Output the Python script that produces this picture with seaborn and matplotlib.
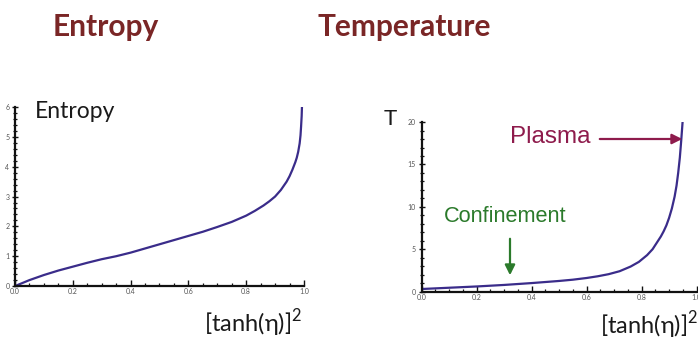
import matplotlib
matplotlib.use("Agg")
import matplotlib.pyplot as plt
from matplotlib.ticker import MultipleLocator
import seaborn as sns
import pandas as pd

# ---- data ----
entropy_x = [0.0, 0.02, 0.05, 0.1, 0.15, 0.2, 0.25, 0.3, 0.35, 0.4, 0.45, 0.5, 0.55, 0.6,
             0.65, 0.7, 0.75, 0.8, 0.83, 0.86, 0.88, 0.9, 0.92, 0.94, 0.95, 0.96, 0.97,
             0.975, 0.98, 0.985, 0.988, 0.99, 0.992, 0.993]
entropy_y = [0.0, 0.08, 0.2, 0.37, 0.52, 0.65, 0.78, 0.9, 1.0, 1.12, 1.26, 1.4, 1.54, 1.68,
             1.82, 1.98, 2.15, 2.36, 2.52, 2.7, 2.84, 3.0, 3.22, 3.5, 3.68, 3.9, 4.15,
             4.3, 4.5, 4.78, 5.05, 5.35, 5.7, 6.0]

temp_x = [0.0, 0.1, 0.2, 0.3, 0.4, 0.5, 0.55, 0.6, 0.64, 0.68, 0.72, 0.76, 0.79, 0.82,
          0.84, 0.86, 0.87, 0.88, 0.89, 0.90, 0.91, 0.92, 0.927, 0.933, 0.939, 0.944, 0.949]
temp_y = [0.3, 0.45, 0.6, 0.78, 1.0, 1.25, 1.4, 1.6, 1.8, 2.05, 2.4, 2.95, 3.5, 4.3,
          5.0, 6.0, 6.5, 7.1, 7.8, 8.7, 9.8, 11.2, 12.5, 14.0, 15.8, 17.8, 20.0]

x_ticks = [0.0, 0.2, 0.4, 0.6, 0.8, 1.0]
x_tick_labels = ["0.0", "0.2", "0.4", "0.6", "0.8", "1.0"]
entropy_ticks = [0, 1, 2, 3, 4, 5, 6]
temp_ticks = [0, 5, 10, 15, 20]

titles = ["Entropy", "Temperature"]
xlabel_text = "[tanh(η)]$^{2}$"

sns.set_theme(style="white")
plt.rcParams["font.family"] = ["Lato", "DejaVu Sans"]
plt.rcParams["mathtext.fontset"] = "custom"
plt.rcParams["mathtext.rm"] = "Lato"

line_color = "#3a2c8a"
title_color = "#7a2626"

fig = plt.figure(figsize=(6.98, 3.43), dpi=100)
ax1 = fig.add_axes([0.0215, 0.166, 0.414, 0.522])
ax2 = fig.add_axes([0.604, 0.150, 0.394, 0.494])

df1 = pd.DataFrame({"x": entropy_x, "y": entropy_y})
df2 = pd.DataFrame({"x": temp_x, "y": temp_y})
sns.lineplot(data=df1, x="x", y="y", ax=ax1, color=line_color, lw=1.6, sort=False)
sns.lineplot(data=df2, x="x", y="y", ax=ax2, color=line_color, lw=1.6, sort=False)

for ax, yt, ymax, yminor in [(ax1, entropy_ticks, 6, 0.2), (ax2, temp_ticks, 20, 1)]:
    ax.set_xlim(0, 1)
    ax.set_ylim(0, ymax)
    ax.set_xticks(x_ticks)
    ax.set_xticklabels(x_tick_labels)
    ax.set_yticks(yt)
    ax.xaxis.set_minor_locator(MultipleLocator(0.05))
    ax.yaxis.set_minor_locator(MultipleLocator(yminor))
    for s in ["top", "right"]:
        ax.spines[s].set_visible(False)
    for s in ["left", "bottom"]:
        ax.spines[s].set_color("#111111")
        ax.spines[s].set_linewidth(1.6)
    ax.tick_params(axis="both", which="both", labelsize=5, labelcolor="#555555",
                   color="#111111", pad=1.5)
    ax.tick_params(axis="x", which="major", direction="in", length=4, width=1.0, bottom=True)
    ax.tick_params(axis="x", which="minor", direction="in", length=2.5, width=0.9, bottom=True)
    ax.tick_params(axis="y", which="major", direction="inout", length=5, width=1.0, left=True)
    ax.tick_params(axis="y", which="minor", direction="inout", length=3, width=0.9, left=True)
    ax.set_xlabel("")
    ax.set_ylabel("")
    ax.patch.set_alpha(0)

# big titles
fig.text(106 / 698, 1 - 27 / 343, titles[0], ha="center", va="center",
         fontsize=21.5, fontweight="bold", color=title_color)
fig.text(404 / 698, 1 - 27 / 343, titles[1], ha="center", va="center",
         fontsize=21.5, fontweight="bold", color=title_color)

# in-plot labels
fig.text(75 / 698, 1 - 112 / 343, "Entropy", ha="center", va="center",
         fontsize=16.5, color="#1a1a1a")
fig.text(390 / 698, 1 - 119 / 343, "T", ha="center", va="center",
         fontsize=16, color="#1a1a1a")

# x labels
fig.text(302 / 698, 1 - 332 / 343, xlabel_text, ha="right", va="baseline",
         fontsize=17, color="#1a1a1a")
fig.text(698 / 698, 1 - 334 / 343, xlabel_text, ha="right", va="baseline",
         fontsize=17, color="#1a1a1a")

# annotations on the temperature plot
plasma_color = "#8e1b4c"
conf_color = "#2b7a2b"
fig.text(550 / 698, 1 - 137 / 343, "Plasma", ha="center", va="center",
         fontsize=17.5, color=plasma_color, family=["Liberation Sans", "DejaVu Sans"])
fig.text(505 / 698, 1 - 217 / 343, "Confinement", ha="center", va="center",
         fontsize=15.7, color=conf_color, family=["Liberation Sans", "DejaVu Sans"])
fig.add_artist(matplotlib.patches.FancyArrowPatch(
    (597 / 698, 1 - 139 / 343), (685 / 698, 1 - 139 / 343), transform=fig.transFigure,
    arrowstyle="-|>,head_length=6,head_width=3", color=plasma_color, lw=1.6))
fig.add_artist(matplotlib.patches.FancyArrowPatch(
    (510 / 698, 1 - 236 / 343), (510 / 698, 1 - 278 / 343), transform=fig.transFigure,
    arrowstyle="-|>,head_length=6,head_width=3", color=conf_color, lw=1.6))

fig.savefig("out.png", dpi=100)
